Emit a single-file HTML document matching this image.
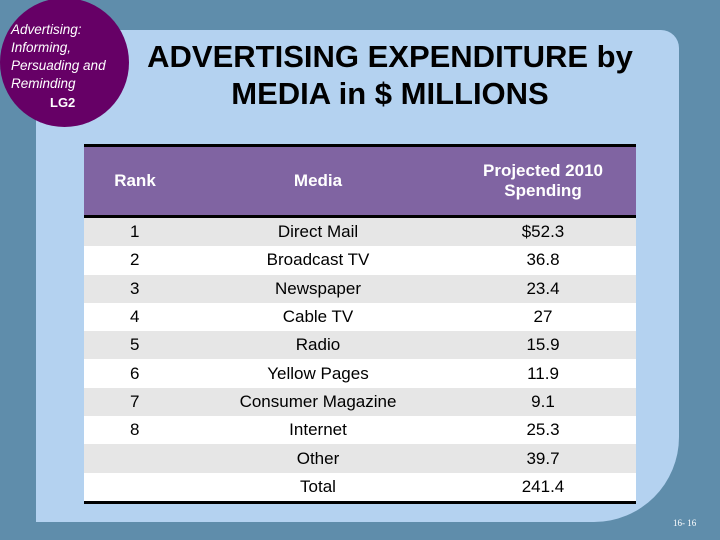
<!DOCTYPE html>
<html><head><meta charset="utf-8"><style>
body{margin:0;width:720px;height:540px;background:#5f8dab;position:relative;overflow:hidden;font-family:"Liberation Sans",sans-serif}
#panel{position:absolute;left:36px;top:30px;width:643px;height:492px;background:#b4d2f0;border-radius:0 18px 85px 0}
#circle{position:absolute;left:0;top:-2px;width:129px;height:129px;border-radius:50%;background:#660066;color:#fff}
#circle .t{position:absolute;left:11px;top:23px;font-size:13.5px;font-style:italic;line-height:18px}
#circle .lg{position:absolute;left:50px;top:97px;font-size:13px;font-weight:bold}
#title{position:absolute;left:130px;top:38px;width:520px;text-align:center;font-size:31px;font-weight:bold;line-height:37px;color:#000}
table{position:absolute;left:84px;top:144px;width:552px;border-collapse:collapse;border-top:3px solid #000;border-bottom:3px solid #000;font-size:17px}
th{background:#8064a2;color:#fff;height:68px;font-size:17px;border-bottom:3px solid #000;padding:0}
td{height:28.3px;padding:0;text-align:center}
tr:nth-child(odd) td{background:#e6e6e6}
tr:nth-child(even) td{background:#fff}
td.r{text-align:left;padding-left:46px}
#pg{position:absolute;left:673px;top:518px;font-family:"Liberation Serif",serif;font-size:9px;color:#fff}
</style></head><body>
<div id="panel"></div>
<div id="circle"><div class="t">Advertising:<br>Informing,<br>Persuading and<br>Reminding</div><div class="lg">LG2</div></div>
<div id="title">ADVERTISING EXPENDITURE by MEDIA in $ MILLIONS</div>
<table>
<thead><tr><th style="width:102px">Rank</th><th style="width:264px">Media</th><th>Projected 2010<br>Spending</th></tr></thead>
<tbody>
<tr><td class="r">1</td><td>Direct Mail</td><td>$52.3</td></tr>
<tr><td class="r">2</td><td>Broadcast TV</td><td>36.8</td></tr>
<tr><td class="r">3</td><td>Newspaper</td><td>23.4</td></tr>
<tr><td class="r">4</td><td>Cable TV</td><td>27</td></tr>
<tr><td class="r">5</td><td>Radio</td><td>15.9</td></tr>
<tr><td class="r">6</td><td>Yellow Pages</td><td>11.9</td></tr>
<tr><td class="r">7</td><td>Consumer Magazine</td><td>9.1</td></tr>
<tr><td class="r">8</td><td>Internet</td><td>25.3</td></tr>
<tr><td class="r"></td><td>Other</td><td>39.7</td></tr>
<tr><td class="r"></td><td>Total</td><td>241.4</td></tr>
</tbody></table>
<div id="pg">16- 16</div>
</body></html>
